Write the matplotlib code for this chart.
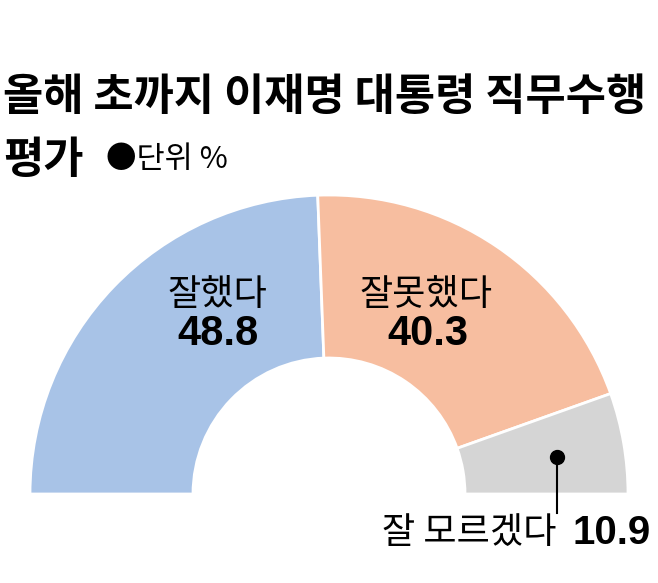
import matplotlib.pyplot as plt

plt.rcParams['font.family'] = ['Noto Sans CJK KR', 'DejaVu Sans']

# Data
labels = ['잘했다', '잘못했다', '잘 모르겠다']
values = [48.8, 40.3, 10.9]
colors = ['#a8c3e7', '#f7bea0', '#d5d5d5']

title_1 = '올해 초까지 이재명 대통령 직무수행'
title_2 = '평가'
unit = '●단위 %'

W, H = 658, 583
fig = plt.figure(figsize=(W / 100, H / 100), dpi=100)
ax = fig.add_axes([0, 0, 1, 1])

cx, cy = 329, H - 494
r_out, r_in = 299, 136

# half donut: pad with an invisible wedge equal to the total
vals = values + [sum(values)]
cols = colors + ['none']
wedges, _ = ax.pie(vals, colors=cols, startangle=180, counterclock=False,
                   center=(cx, cy), radius=r_out, frame=True,
                   wedgeprops=dict(width=r_out - r_in, edgecolor='white', linewidth=2))
wedges[-1].set_edgecolor('none')
ax.set_xlim(0, W)
ax.set_ylim(0, H)
ax.axis('off')

# Titles
fig.text(3 / W, 1 - 97 / H, title_1, fontsize=31.5, fontweight='bold', va='center', ha='left')
fig.text(3 / W, 1 - 160 / H, title_2, fontsize=31.5, fontweight='bold', va='center', ha='left')
fig.text(106 / W, 1 - 160 / H, unit, fontsize=22, va='center', ha='left')

# Segment labels
ax.text(217, H - 295, labels[0], fontsize=26, ha='center', va='center')
ax.text(218, H - 334, f'{values[0]}', fontsize=30, fontweight='bold',
        family='Liberation Sans', ha='center', va='center')
ax.text(426, H - 295, labels[1], fontsize=26, ha='center', va='center')
ax.text(428, H - 334, f'{values[1]}', fontsize=30, fontweight='bold',
        family='Liberation Sans', ha='center', va='center')

# Leader for the small segment
ax.plot([557, 557], [H - 457, H - 513], color='black', lw=1.5)
ax.plot(557, H - 457, 'o', color='black', ms=10)
ax.text(556, H - 533, labels[2], fontsize=26, ha='right', va='center')
ax.text(651, H - 533, f'{values[2]}', fontsize=29, fontweight='bold',
        family='Liberation Sans', ha='right', va='center')

fig.savefig('out.png', dpi=100)
